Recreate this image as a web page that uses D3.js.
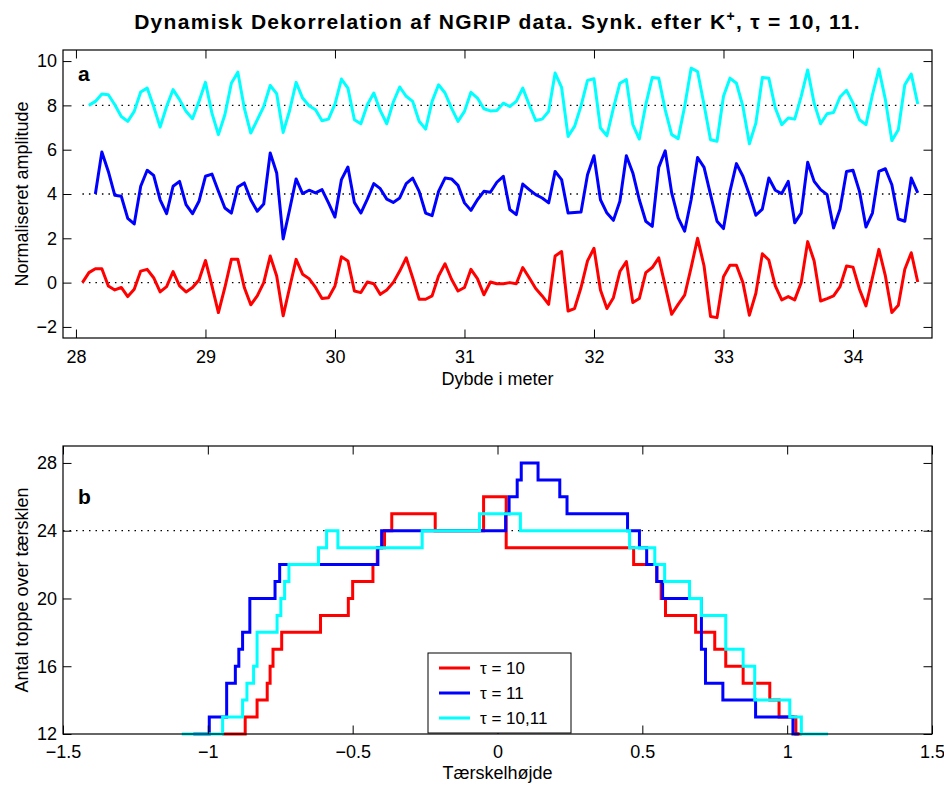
<!DOCTYPE html>
<html>
<head>
<meta charset="utf-8">
<script src="https://cdn.jsdelivr.net/npm/d3@7"></script>
<style>
body{margin:0;background:#fff}
text{font-family:"Liberation Sans",Arial,Helvetica,sans-serif}
</style>
</head>
<body>
<div class="chart"></div>
<script>
// panel a: normalised amplitude, sampled every 5 cm
var depthStep = 0.05
var redStart = 28.05, blueStart = 28.15, cyanStart = 28.10
var offsets = [0, 4, 8]

var redAmp = [0,0.45,0.63,0.63,-0.15,-0.33,-0.22,-0.63,-0.3,0.52,
	0.6,0.22,-0.42,-0.18,0.5,-0.15,-0.42,-0.22,0.12,1.0,
	-0.15,-1.35,-0.22,1.05,1.05,-0.22,-1.0,-0.6,0,1.2,
	0.3,-1.5,-0.22,1.05,0.38,0.18,-0.22,-0.72,-0.68,-0.15,
	1.17,0.98,-0.38,-0.45,0.03,-0.05,-0.53,-0.33,0,0.52,
	1.12,0.22,-0.75,-0.75,-0.6,0.3,0.85,0.15,-0.38,-0.22,
	0.6,0.18,-0.55,0.03,-0.05,-0.05,0,-0.05,0.68,0.22,
	-0.27,-0.6,-0.98,1.2,1.4,-1.28,-1.17,-0.22,0.98,1.55,
	-0.33,-1.17,-0.68,0.5,0.95,-0.9,-0.72,0.45,0.68,1.12,
	-0.15,-1.43,-0.98,-0.57,0.68,2.0,0.75,-1.53,-1.58,0.27,
	0.78,0.78,0,-1.47,-0.48,1.3,1.02,-0.15,-0.78,-0.63,
	-0.78,0,1.85,0.98,-0.83,-0.72,-0.6,-0.18,0.75,0.7,
	-0.3,-1.05,0.22,1.5,0.3,-1.35,-1.02,0.6,1.35,0.03]

var blueAmp = [0,1.9,1.02,-0.06,-0.1,-1.1,-1.35,0.35,
	1.07,0.84,-0.26,-0.89,0.35,0.57,-0.48,-0.89,-0.33,0.8,
	0.9,0.12,-0.63,-0.86,0.32,0.5,-0.26,-0.78,-0.45,1.85,
	0.95,-2.03,-0.7,0.68,0.02,0.17,0.05,0.2,-0.4,-1.04,
	0.65,1.22,-0.38,-0.86,-0.23,0.47,0.24,-0.23,-0.38,-0.18,
	0.47,0.72,0.12,-0.86,-0.98,0.12,0.72,0.68,0.39,-0.4,
	-0.74,-0.26,0.12,0.08,0.53,0.8,-0.7,-0.93,0.45,0.2,
	-0.03,-0.18,-0.4,1.02,0.65,-0.86,-0.83,-0.81,0.87,1.73,
	-0.26,-0.86,-1.19,-0.33,1.73,0.95,-0.26,-1.23,-1.46,1.2,
	1.95,0.05,-1.08,-1.68,-0.26,1.65,1.2,-0.03,-1.23,-1.56,
	0.12,1.37,0.8,-0.03,-0.96,-0.68,0.72,0.17,0.02,0.57,
	-1.3,-0.86,1.43,0.57,0.2,-0.03,-1.53,-0.68,1.02,1.07,
	0.12,-1.49,-0.86,1.02,1.14,0.42,-1.13,-1.23,0.72,0.05]

var cyanAmp = [0,0.18,0.51,0.48,0.03,-0.5,-0.72,-0.27,0.6,
	0.78,-0.05,-0.98,-0.05,0.71,0.26,-0.27,-0.6,0.18,1.04,
	-0.35,-1.32,-0.42,1.0,1.5,-0.12,-1.25,-0.65,-0.05,0.9,
	0.53,-1.22,-0.23,1.04,0.33,-0.02,-0.2,-0.69,-0.62,0.06,
	1.19,0.78,-0.65,-0.83,0.03,0.56,-0.24,-0.83,0.14,0.83,
	0.41,0.18,-0.72,-1.07,0.18,0.93,0.56,-0.12,-0.72,-0.27,
	0.59,0.33,-0.15,-0.25,-0.23,0.1,-0.05,0.18,0.78,0.03,
	-0.68,-0.62,-0.27,1.46,0.81,-1.4,-0.95,-0.02,1.13,1.2,
	-1.02,-1.37,-0.12,1.0,1.16,-0.87,-1.52,0.03,1.26,1.23,
	-0.2,-1.32,-1.5,-0.05,1.68,1.53,0.03,-1.55,-1.62,0.41,
	1.23,1.0,-0.05,-1.73,-0.8,1.26,1.23,-0.12,-0.87,-0.57,
	-0.62,0.41,1.6,0.1,-0.83,-0.38,-0.32,0.38,0.68,0.1,
	-0.65,-0.87,0.48,1.64,0.26,-1.59,-1.1,0.93,1.41,0.06]

// panel b: peaks above threshold, [threshold where level starts, count]
var redSteps = [[-0.95,12],[-0.871,13],[-0.83,14],[-0.795,15],[-0.785,16],[-0.775,17],[-0.745,18],
	[-0.611,19],[-0.515,20],[-0.5,21],[-0.43,22],[-0.415,23],[-0.39,24],[-0.365,25],[-0.215,24],
	[-0.048,26],[0.03,23],[0.47,22],[0.55,21],[0.565,20],[0.58,19],[0.684,18],[0.75,17],
	[0.788,16],[0.848,15],[0.94,14],[0.972,13],[1.03,12]]
var redEnd = 1.05
var blueSteps = [[-1.05,12],[-0.995,13],[-0.935,15],[-0.905,16],[-0.893,17],[-0.88,18],[-0.855,20],
	[-0.768,21],[-0.752,22],[-0.413,23],[-0.4,24],[0.028,25],[0.04,26],[0.068,27],[0.082,28],
	[0.14,27],[0.215,26],[0.24,25],[0.449,24],[0.49,23],[0.515,22],[0.55,21],[0.57,20],
	[0.704,17],[0.718,15],[0.778,14],[0.891,13],[1.02,12]]
var blueEnd = 1.04
var cyanSteps = [[-1.09,12],[-0.949,13],[-0.88,14],[-0.865,15],[-0.842,16],[-0.83,18],[-0.761,19],
	[-0.748,20],[-0.735,21],[-0.72,22],[-0.618,23],[-0.59,24],[-0.551,23],[-0.26,24],[-0.062,25],
	[0.079,24],[0.456,23],[0.543,22],[0.577,21],[0.663,20],[0.704,19],[0.788,17],[0.848,16],
	[0.888,14],[1.009,13],[1.049,12]]
var cyanEnd = 1.141

var refCount = 24
var legendLabels = ["\u03c4 = 10", "\u03c4 = 11", "\u03c4 = 10,11"]
var colors = ["#ff0000", "#0000ff", "#00ffff"]

var width = 944, height = 785
var svg = d3.select(".chart").append("svg").attr("width", width).attr("height", height)

var left = 63, right = 932
var fs = 18
var minus = function(f){ return function(d){ return f(d).replace("-", "\u2212") } }

function frame(g, x, y, top, bottom, xt, yt, xf, yf, pad){
	var tl = 8.5
	g.append("g").attr("transform", "translate(0," + bottom + ")")
		.call(d3.axisBottom(x).tickValues(xt).tickSize(-tl).tickPadding(pad).tickFormat(minus(xf)))
	g.append("g").attr("transform", "translate(0," + top + ")")
		.call(d3.axisTop(x).tickValues(xt).tickSize(-tl).tickFormat(""))
	g.append("g").attr("transform", "translate(" + left + ",0)")
		.call(d3.axisLeft(y).tickValues(yt).tickSize(-tl).tickPadding(6).tickFormat(minus(yf)))
	g.append("g").attr("transform", "translate(" + right + ",0)")
		.call(d3.axisRight(y).tickValues(yt).tickSize(-tl).tickFormat(""))
	g.selectAll(".domain").remove()
	g.selectAll(".tick line").attr("stroke", "#000")
	g.selectAll(".tick text").attr("font-size", fs).attr("fill", "#000")
		.style("font-family", "Liberation Sans, Arial, sans-serif")
	g.append("rect").attr("x", left).attr("y", top).attr("width", right - left).attr("height", bottom - top)
		.attr("fill", "none").attr("stroke", "#000").attr("stroke-width", 1.2)
}

// ---- panel a
var topA = 50, botA = 338
var xA = d3.scaleLinear().domain([27.9, 34.61]).range([left, right])
var yA = d3.scaleLinear().domain([-2.5, 10.5]).range([botA, topA])
var gA = svg.append("g")

offsets.forEach(function(o){
	gA.append("line").attr("x1", xA(28.05)).attr("x2", xA(34.5))
		.attr("y1", yA(o)).attr("y2", yA(o))
		.attr("stroke", "#000").attr("stroke-width", 1.3).attr("stroke-dasharray", "1.5,5")
})

var seriesA = [[redAmp, redStart], [blueAmp, blueStart], [cyanAmp, cyanStart]]
seriesA.forEach(function(s, k){
	var line = d3.line()
		.x(function(d, i){ return xA(s[1] + i * depthStep) })
		.y(function(d){ return yA(d + offsets[k]) })
	gA.append("path").attr("d", line(s[0]))
		.attr("fill", "none").attr("stroke", colors[k]).attr("stroke-width", 3)
		.attr("stroke-linejoin", "round")
})

frame(gA, xA, yA, topA, botA, d3.range(28, 35), d3.range(-2, 11, 2), d3.format("d"), d3.format("d"), 12)

gA.append("text").attr("x", 78).attr("y", 81).text("a")
	.attr("font-size", 21).attr("font-weight", "bold")

svg.append("text").attr("x", (left + right) / 2).attr("y", 385).attr("text-anchor", "middle")
	.attr("font-size", fs).text("Dybde i meter")
svg.append("text").attr("transform", "translate(28," + (topA + botA) / 2 + ") rotate(-90)")
	.attr("text-anchor", "middle").attr("font-size", fs).text("Normaliseret amplitude")

var title = svg.append("text").attr("x", (left + right) / 2).attr("y", 29).attr("text-anchor", "middle")
	.attr("font-size", 21).attr("font-weight", "bold").style("letter-spacing", "1.3px")
title.append("tspan").text("Dynamisk Dekorrelation af NGRIP data. Synk. efter K")
title.append("tspan").attr("dy", -8).attr("font-size", 14).text("+")
title.append("tspan").attr("dy", 8).text(", \u03c4 = 10, 11.")

// ---- panel b
var topB = 446, botB = 734
var xB = d3.scaleLinear().domain([-1.5, 1.5]).range([left, right])
var yB = d3.scaleLinear().domain([12, 29]).range([botB, topB])
var gB = svg.append("g")

gB.append("line").attr("x1", left).attr("x2", right).attr("y1", yB(refCount)).attr("y2", yB(refCount))
	.attr("stroke", "#000").attr("stroke-width", 1.3).attr("stroke-dasharray", "1.5,5")

var stepLine = d3.line().x(function(d){ return xB(d[0]) }).y(function(d){ return yB(d[1]) })
	.curve(d3.curveStepAfter)
var seriesB = [[redSteps, redEnd], [blueSteps, blueEnd], [cyanSteps, cyanEnd]]
seriesB.forEach(function(s, k){
	var pts = s[0].concat([[s[1], s[0][s[0].length - 1][1]]])
	gB.append("path").attr("d", stepLine(pts))
		.attr("fill", "none").attr("stroke", colors[k]).attr("stroke-width", 3)
})

frame(gB, xB, yB, topB, botB, d3.range(-1.5, 1.51, 0.5), [12, 16, 20, 24, 28], d3.format(".1~f"), d3.format("d"), 11)

gB.append("text").attr("x", 78).attr("y", 504).text("b")
	.attr("font-size", 21).attr("font-weight", "bold")

svg.append("text").attr("x", (left + right) / 2).attr("y", 779).attr("text-anchor", "middle")
	.attr("font-size", fs).text("T\u00e6rskelh\u00f8jde")
svg.append("text").attr("transform", "translate(28," + (topB + botB) / 2 + ") rotate(-90)")
	.attr("text-anchor", "middle").attr("font-size", fs).text("Antal toppe over t\u00e6rsklen")

// legend
var lg = svg.append("g").attr("transform", "translate(428,653)")
lg.append("rect").attr("width", 143).attr("height", 80).attr("fill", "#fff").attr("stroke", "#000")
legendLabels.forEach(function(l, i){
	var yy = 15 + i * 25
	lg.append("line").attr("x1", 11).attr("x2", 42).attr("y1", yy).attr("y2", yy)
		.attr("stroke", colors[i]).attr("stroke-width", 3)
	lg.append("text").attr("x", 52).attr("y", yy + 6).attr("font-size", 17).text(l)
})
</script>
</body>
</html>
